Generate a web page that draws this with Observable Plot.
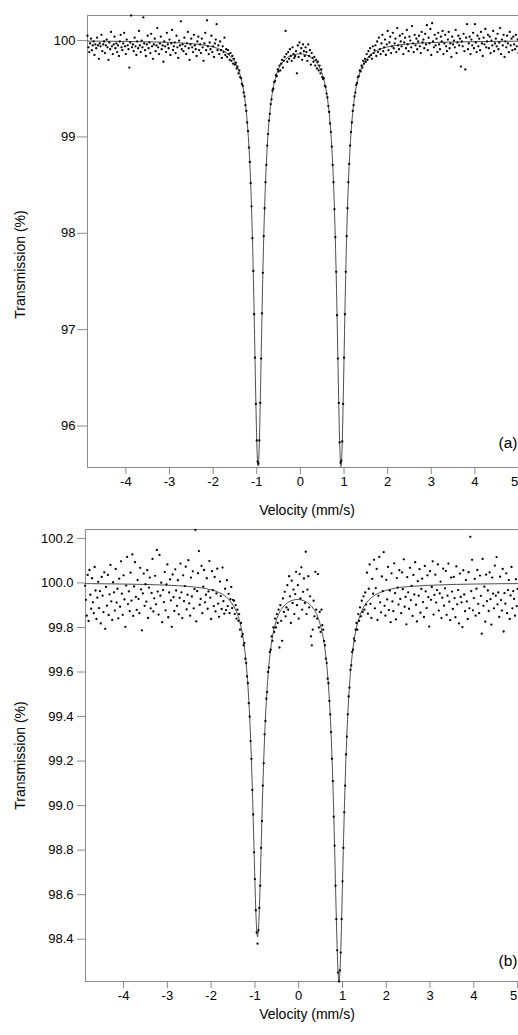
<!DOCTYPE html>
<html><head><meta charset="utf-8">
<script src="https://cdn.jsdelivr.net/npm/d3@7"></script>
<script src="https://cdn.jsdelivr.net/npm/@observablehq/plot@0.6"></script>
<style>
html,body{margin:0;padding:0;background:#fff;overflow:hidden}
#chart svg{display:block}
</style></head><body><div id="chart"></div>
<script>
// channel velocity calibration (mm/s)
const velocityStart = -4.88, velocityStep = 0.02;

// (a) measured transmission (%) per channel
const aTransmission = [
100.05, 99.93, 99.88, 99.97, 100.02, 99.90, 99.95, 99.99, 99.85, 99.96,
99.92, 100.03, 99.95, 99.81, 99.97, 99.94, 100.06, 99.89, 99.96, 99.99,
99.87, 99.95, 100.01, 99.93, 99.80, 99.98, 99.91, 100.09, 99.94, 99.86,
99.96, 100.04, 99.92, 99.97, 99.88, 99.95, 99.84, 99.99, 100.06, 99.93,
99.90, 99.97, 100.08, 99.94, 99.86, 100.01, 99.95, 99.91, 99.72, 99.98,
100.26, 99.93, 99.96, 99.89, 100.03, 99.94, 99.85, 99.99, 99.92, 100.10,
99.95, 99.88, 100.00, 99.93, 100.24, 99.97, 99.90, 99.84, 99.96, 100.05,
99.92, 99.98, 99.87, 100.07, 99.94, 99.81, 99.96, 100.02, 99.89, 99.95,
100.13, 99.93, 99.86, 99.97, 100.04, 99.91, 99.95, 99.78, 99.99, 99.94,
99.88, 100.08, 99.96, 99.92, 100.01, 99.85, 99.97, 100.11, 99.90, 99.94,
99.98, 99.87, 100.05, 99.93, 99.82, 100.00, 99.95, 100.20, 99.91, 99.96,
99.89, 100.03, 99.94, 99.86, 99.97, 100.09, 99.92, 99.80, 99.96, 100.02,
99.93, 99.88, 100.06, 99.95, 99.91, 99.84, 99.99, 100.04, 99.90, 99.96,
99.87, 100.02, 99.93, 99.79, 99.97, 100.08, 99.90, 100.21, 99.94, 99.86,
99.98, 99.91, 100.05, 99.88, 99.94, 99.83, 99.97, 100.01, 100.17, 99.90,
99.95, 99.86, 99.99, 99.90, 99.82, 99.94, 99.88, 100.03, 99.85, 99.91,
99.83, 99.90, 99.86, 99.80, 99.87, 99.79, 99.84, 99.76, 99.81, 99.75,
99.77, 99.71, 99.73, 99.66, 99.69, 99.62, 99.61, 99.55, 99.53, 99.46,
99.42, 99.33, 99.27, 99.15, 99.06, 98.89, 98.74, 98.52, 98.28, 97.95,
97.61, 97.16, 96.71, 96.23, 95.85, 95.63, 95.61, 95.85, 96.24, 96.70,
97.17, 97.59, 97.97, 98.26, 98.53, 98.71, 98.91, 99.03, 99.17, 99.24,
99.34, 99.39, 99.48, 99.50, 99.57, 99.58, 99.64, 99.63, 99.70, 99.68,
99.74, 99.69, 99.76, 99.80, 99.72, 99.79, 99.83, 100.10, 99.86, 99.78,
99.88, 99.81, 99.91, 99.84, 99.79, 99.93, 99.86, 99.82, 99.84, 99.89,
99.66, 99.95, 99.83, 99.98, 99.87, 99.92, 99.80, 99.96, 99.89, 99.84,
99.93, 99.88, 99.79, 99.96, 99.84, 99.90, 99.75, 99.87, 99.82, 99.78,
99.83, 99.74, 99.80, 99.71, 99.78, 99.69, 99.74, 99.66, 99.70, 99.62,
99.60, 99.61, 99.53, 99.52, 99.45, 99.41, 99.32, 99.26, 99.14, 99.05,
98.90, 98.71, 98.53, 98.25, 97.96, 97.60, 97.15, 96.70, 96.24, 95.83,
95.62, 95.64, 95.84, 96.23, 96.71, 97.16, 97.60, 97.97, 98.26, 98.53,
98.72, 98.91, 99.05, 99.15, 99.27, 99.33, 99.42, 99.46, 99.54, 99.56,
99.62, 99.63, 99.69, 99.68, 99.74, 99.72, 99.79, 99.76, 99.81, 99.78,
99.86, 99.80, 99.89, 99.83, 99.92, 99.85, 99.81, 99.94, 99.87, 99.90,
99.95, 99.84, 99.99, 99.88, 100.03, 99.91, 99.86, 99.97, 100.06, 99.89,
99.93, 100.01, 99.85, 99.96, 100.10, 99.90, 99.98, 100.04, 99.87, 99.94,
100.08, 99.92, 99.97, 100.02, 99.88, 100.13, 99.95, 99.91, 100.05, 99.99,
99.94, 100.07, 99.86, 99.98, 100.03, 99.92, 100.11, 99.96, 99.89, 100.04,
100.00, 99.93, 100.15, 99.97, 99.88, 100.06, 99.95, 100.02, 99.91, 99.99,
100.05, 99.94, 99.87, 100.09, 99.98, 100.01, 99.92, 100.07, 99.96, 100.16,
99.90, 100.03, 99.97, 100.12, 99.85, 100.18, 99.99, 99.93, 100.06, 99.95,
100.02, 99.88, 100.08, 99.96, 99.91, 100.04, 99.99, 100.10, 99.86, 99.97,
100.06, 99.94, 99.89, 100.01, 100.09, 99.92, 99.97, 99.83, 100.04, 99.96,
100.00, 99.93, 100.11, 99.87, 99.98, 100.05, 99.95, 100.02, 99.73, 99.99,
99.94, 100.07, 99.89, 99.70, 100.03, 100.17, 99.91, 99.97, 100.04, 99.86,
100.01, 99.95, 100.08, 99.92, 100.17, 99.98, 99.88, 100.05, 99.94, 100.02,
99.90, 100.09, 99.97, 99.84, 100.03, 99.96, 100.12, 99.93, 99.99, 100.06,
99.92, 100.04, 99.87, 100.00, 99.95, 100.10, 99.89, 99.97, 100.02, 99.94,
100.07, 99.91, 99.98, 100.13, 99.86, 100.01, 99.95, 100.06, 99.83, 99.99,
99.93, 100.05, 99.97, 99.88, 100.09, 99.95, 100.02, 99.90, 100.04, 99.96,
99.91, 100.06, 99.94, 100.01, 99.87
];

// (b) measured transmission (%) per channel
const bTransmission = [
99.987, 99.924, 99.853, 100.036, 99.829, 100.058, 99.947, 99.884, 100.021, 99.913,
99.864, 100.072, 99.966, 99.838, 99.934, 100.005, 99.887, 99.963, 99.818, 100.027,
99.943, 99.869, 100.047, 99.794, 99.982, 99.898, 100.036, 99.856, 99.949, 100.081,
99.917, 99.834, 100.003, 99.958, 99.876, 100.063, 99.912, 99.974, 99.841, 100.019,
99.893, 100.097, 99.952, 99.857, 100.034, 99.926, 99.803, 99.988, 100.117, 99.905,
99.962, 99.873, 100.046, 99.921, 100.128, 99.852, 99.984, 100.093, 99.937, 99.879,
100.013, 99.928, 99.864, 100.068, 99.971, 99.787, 99.953, 100.042, 99.897, 99.994,
99.916, 100.057, 99.843, 99.979, 100.024, 99.886, 99.955, 100.108, 99.872, 99.931,
100.032, 99.904, 100.148, 99.961, 99.858, 100.126, 99.943, 100.001, 99.824, 99.968,
99.914, 100.049, 99.877, 99.993, 100.083, 99.846, 99.957, 100.016, 99.922, 99.803,
100.038, 99.936, 99.874, 100.061, 99.966, 99.897, 100.012, 99.859, 99.933, 100.087,
99.958, 99.842, 100.034, 99.918, 99.986, 100.073, 99.881, 99.947, 100.102, 99.908,
99.853, 100.024, 99.939, 100.052, 99.886, 99.972, 100.238, 99.827, 99.963, 100.044,
100.143, 99.902, 99.928, 100.077, 99.864, 99.983, 100.058, 99.913, 99.947, 100.021,
99.884, 99.962, 100.098, 99.934, 99.838, 100.053, 99.968, 99.896, 100.027, 99.872,
99.953, 100.064, 99.907, 99.848, 100.006, 99.941, 99.883, 100.069, 99.918, 99.862,
99.974, 99.878, 100.012, 99.896, 99.951, 99.864, 99.927, 99.982, 99.887, 99.924,
99.92, 99.86, 99.90, 99.84, 99.88, 99.83, 99.86, 99.79, 99.82, 99.76,
99.77, 99.72, 99.73, 99.66, 99.64, 99.58, 99.55, 99.46, 99.40, 99.29,
99.21, 99.07, 98.96, 98.79, 98.67, 98.53, 98.43, 98.38, 98.44, 98.54,
98.64, 98.81, 98.93, 99.09, 99.19, 99.32, 99.38, 99.48, 99.51, 99.60,
99.62, 99.69, 99.70, 99.76, 99.74, 99.80, 99.78, 99.84, 99.80, 99.86,
99.82, 99.88, 99.71, 99.90, 99.83, 99.74, 99.93, 99.87, 99.96, 99.85,
99.89, 99.99, 99.88, 100.03, 99.94, 99.82, 100.01, 99.91, 99.97, 99.86,
99.95, 100.05, 99.90, 99.99, 99.84, 100.04, 99.93, 100.07, 99.88, 99.96,
100.02, 99.91, 100.14, 99.86, 99.97, 100.03, 99.89, 99.94, 99.76, 99.72,
99.79, 99.92, 99.85, 100.05, 99.88, 99.84, 100.04, 99.80, 99.87, 99.78,
99.88, 99.81, 99.79, 99.74, 99.72, 99.66, 99.64, 99.57, 99.55, 99.47,
99.41, 99.33, 99.21, 99.11, 98.95, 98.82, 98.64, 98.49, 98.35, 98.25,
98.21, 98.26, 98.34, 98.49, 98.66, 98.81, 98.97, 99.09, 99.23, 99.31,
99.41, 99.49, 99.53, 99.61, 99.63, 99.69, 99.70, 99.75, 99.74, 99.79,
99.82, 99.79, 99.86, 99.83, 99.89, 99.85, 99.92, 99.87, 99.94, 99.88,
99.957, 99.903, 100.046, 99.862, 99.974, 100.083, 99.906, 99.843, 100.018, 99.952,
100.104, 99.886, 99.977, 100.063, 99.834, 99.942, 100.117, 99.913, 99.868, 100.029,
99.963, 100.138, 99.897, 99.853, 100.014, 99.926, 100.072, 99.878, 99.966, 99.824,
100.043, 99.917, 99.873, 100.088, 99.954, 99.836, 100.022, 99.979, 99.903, 100.057,
99.928, 99.864, 100.047, 99.972, 100.106, 99.893, 99.937, 99.814, 100.026, 99.958,
99.884, 100.068, 99.923, 99.987, 99.852, 100.036, 99.948, 100.093, 99.902, 99.827,
100.008, 99.943, 100.062, 99.866, 99.973, 100.019, 99.914, 99.847, 100.076, 99.962,
99.887, 100.034, 99.936, 99.804, 100.053, 99.924, 99.982, 100.097, 99.858, 99.946,
100.037, 99.912, 99.968, 100.083, 99.876, 99.953, 100.006, 99.842, 99.934, 100.064,
99.898, 99.976, 100.054, 99.857, 99.943, 100.087, 99.916, 99.833, 100.024, 99.961,
99.883, 100.027, 99.932, 99.846, 100.074, 99.904, 99.968, 99.818, 100.042, 99.937,
99.913, 99.802, 100.057, 99.948, 99.873, 100.013, 99.917, 99.838, 100.048, 99.886,
100.207, 99.963, 100.104, 99.877, 99.932, 100.018, 99.853, 99.974, 100.058, 99.906,
99.864, 100.033, 99.942, 99.772, 100.108, 99.897, 99.983, 99.826, 100.037, 99.918,
99.966, 99.874, 100.047, 99.927, 99.813, 100.024, 99.952, 99.886, 100.078, 99.943,
100.116, 99.904, 99.957, 99.847, 100.028, 99.923, 99.876, 100.063, 99.782, 99.954,
99.907, 100.043, 99.864, 99.968, 100.013, 99.838, 99.944, 100.072, 99.886, 99.963,
99.928, 99.853, 100.017, 99.896, 99.973
];

// fitted curves
const aFitVelocity = [-4.88,-4.0,-3.5,-3.0,-2.5,-2.2,-2.0,-1.8,-1.7,-1.6,-1.5,-1.45,-1.4,-1.35,-1.3,-1.25,-1.2,-1.17,-1.14,-1.11,-1.08,-1.05,-1.02,-0.99,-0.97,-0.95,-0.92,-0.89,-0.86,-0.83,-0.80,-0.77,-0.74,-0.70,-0.65,-0.60,-0.55,-0.50,-0.40,-0.30,-0.20,-0.10,-0.02,0.05,0.15,0.25,0.35,0.45,0.50,0.55,0.60,0.65,0.69,0.72,0.75,0.78,0.81,0.84,0.87,0.90,0.93,0.96,0.99,1.02,1.05,1.08,1.11,1.14,1.17,1.21,1.26,1.31,1.36,1.41,1.46,1.56,1.66,1.76,1.9,2.1,2.4,2.8,3.3,4.0,5.0];
const aFitTransmission = [99.994,99.991,99.987,99.981,99.968,99.952,99.934,99.90,99.875,99.836,99.774,99.73,99.67,99.589,99.474,99.304,99.045,98.822,98.523,98.123,97.597,96.941,96.236,95.704,95.585,95.704,96.236,96.939,97.595,98.121,98.52,98.818,99.041,99.256,99.438,99.561,99.647,99.709,99.778,99.822,99.847,99.859,99.862,99.86,99.848,99.825,99.783,99.71,99.653,99.573,99.459,99.291,99.095,98.894,98.622,98.261,97.777,97.162,96.458,95.838,95.579,95.839,96.459,97.163,97.779,98.263,98.625,98.898,99.10,99.298,99.468,99.584,99.665,99.725,99.769,99.831,99.87,99.897,99.922,99.943,99.962,99.975,99.983,99.989,99.993];
const bFitVelocity = [-4.88,-4.0,-3.0,-2.5,-2.2,-2.0,-1.8,-1.7,-1.6,-1.5,-1.45,-1.4,-1.35,-1.3,-1.25,-1.2,-1.16,-1.12,-1.09,-1.06,-1.03,-1.0,-0.97,-0.94,-0.91,-0.88,-0.85,-0.82,-0.79,-0.76,-0.72,-0.68,-0.63,-0.58,-0.52,-0.45,-0.38,-0.3,-0.2,-0.1,-0.02,0.05,0.15,0.25,0.35,0.42,0.48,0.53,0.58,0.63,0.67,0.71,0.74,0.77,0.80,0.83,0.86,0.89,0.92,0.95,0.98,1.01,1.04,1.07,1.10,1.13,1.17,1.21,1.26,1.31,1.38,1.46,1.56,1.7,1.9,2.2,2.6,3.2,4.0,5.0];
const bFitTransmission = [99.997,99.995,99.99,99.984,99.977,99.969,99.955,99.944,99.927,99.90,99.883,99.86,99.829,99.785,99.725,99.638,99.537,99.396,99.256,99.081,98.873,98.656,98.479,98.41,98.479,98.655,98.872,99.079,99.254,99.393,99.533,99.633,99.719,99.778,99.826,99.863,99.886,99.904,99.918,99.924,99.926,99.924,99.917,99.904,99.88,99.855,99.821,99.783,99.729,99.652,99.563,99.441,99.318,99.161,98.964,98.73,98.486,98.289,98.211,98.29,98.488,98.732,98.966,99.163,99.321,99.444,99.568,99.657,99.735,99.791,99.843,99.883,99.914,99.94,99.96,99.976,99.985,99.991,99.995,99.997];

// ticks and labels
const velocityTicks = [-4, -3, -2, -1, 0, 1, 2, 3, 4, 5];
const aTransTicks = [96, 97, 98, 99, 100];
const bTransTicks = [98.4, 98.6, 98.8, 99.0, 99.2, 99.4, 99.6, 99.8, 100.0, 100.2];
const panelLabels = ["(a)", "(b)"];
const xTitle = "Velocity (mm/s)";
const yTitle = "Transmission (%)";

const FONT = "'Liberation Sans', Arial, Helvetica, sans-serif";
const GRAY = "#8a8a8a";

function toPoints(arr) {
  return arr.map((t, i) => ({v: velocityStart + i * velocityStep, t}));
}
function toFit(vs, ts) {
  return vs.map((v, i) => ({v, t: ts[i]}));
}

const innerTicks = velocityTicks.slice(0, -1);
const edgeTicks = velocityTicks.slice(-1);

function panel(c) {
  return Plot.plot({
    width: 518,
    height: c.height,
    marginLeft: c.marginLeft,
    marginRight: 0,
    marginTop: c.marginTop,
    marginBottom: c.marginBottom,
    style: {fontFamily: FONT, fontSize: "13px", background: "white", color: "black"},
    x: {domain: c.xDomain},
    y: {domain: c.yDomain},
    marks: [
      Plot.ruleY([c.yDomain[0], c.yDomain[1]], {stroke: GRAY, strokeWidth: 1}),
      Plot.ruleX([c.xDomain[0]], {stroke: GRAY, strokeWidth: 1}),
      Plot.line(c.fit, {x: "v", y: "t", stroke: "#3a3a3a", strokeWidth: 0.9, curve: "monotone-x"}),
      Plot.dot(c.points, {x: "v", y: "t", r: 1.15, fill: "black", stroke: "none"}),
      Plot.axisX({ticks: velocityTicks, tickSize: 7, stroke: GRAY, text: null, label: null}),
      Plot.axisX({ticks: innerTicks, tickSize: 0, tickPadding: 9, fill: "black",
        tickFormat: d => String(d), label: null, fontSize: 13}),
      Plot.axisX({ticks: edgeTicks, tickSize: 0, tickPadding: 9, fill: "black", dx: -4,
        tickFormat: d => String(d), label: null, fontSize: 13}),
      Plot.axisY({ticks: c.yTicks, tickSize: c.yTickSize, tickPadding: c.yTickPadding, stroke: GRAY, fill: "black",
        tickFormat: c.yFormat, label: null, fontSize: 13}),
      Plot.text([xTitle], {text: d => d, frameAnchor: "bottom", textAnchor: "middle", dx: c.xTitleDx, dy: c.xTitleDy, fontSize: 14, fill: "black"}),
      Plot.text([yTitle], {text: d => d, frameAnchor: "left", textAnchor: "middle", rotate: -90, dx: c.yTitleDx, dy: c.yTitleDy, fontSize: 14, fill: "black"}),
      Plot.text([c.label], {text: d => d, frameAnchor: "bottom-right", textAnchor: "end", dx: -1, dy: c.labelDy, fontSize: 15.5, fill: "black"})
    ]
  });
}

const chart = document.getElementById("chart");
chart.append(panel({
  height: 520, marginLeft: 87, marginTop: 15, marginBottom: 53,
  xDomain: [-4.88, 5.0], yDomain: [95.57, 100.26],
  yTicks: aTransTicks, yTickSize: 10, yTickPadding: 2, yFormat: d => String(d),
  points: toPoints(aTransmission), fit: toFit(aFitVelocity, aFitTransmission),
  label: panelLabels[0], xTitleDx: 4, xTitleDy: 47, yTitleDx: -67, yTitleDy: 23, labelDy: -20
}));
chart.append(panel({
  height: 515, marginLeft: 85, marginTop: 9, marginBottom: 54,
  xDomain: [-4.87, 5.02], yDomain: [98.21, 100.24],
  yTicks: bTransTicks, yTickSize: 8, yTickPadding: 4, yFormat: d => d.toFixed(1),
  points: toPoints(bTransmission), fit: toFit(bFitVelocity, bFitTransmission),
  label: panelLabels[1], xTitleDx: 5, xTitleDy: 37, yTitleDx: -65, yTitleDy: 0, labelDy: -16
}));
</script>
</body></html>
